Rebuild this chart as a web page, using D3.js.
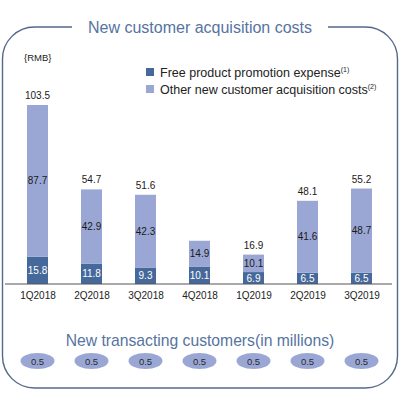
<!DOCTYPE html>
<html>
<head>
<meta charset="utf-8">
<script src="https://cdn.jsdelivr.net/npm/d3@7"></script>
<style>
  body { margin: 0; background: #fff; }
  svg { font-family: "Liberation Sans", Arial, Helvetica, sans-serif; }
</style>
</head>
<body>
<div id="chart"></div>
<script>
// data
var quarters = ["1Q2018", "2Q2018", "3Q2018", "4Q2018", "1Q2019", "2Q2019", "3Q2019"];
var promotion = [15.8, 11.8, 9.3, 10.1, 6.9, 6.5, 6.5];
var otherCosts = [87.7, 42.9, 42.3, 14.9, 10.1, 41.6, 48.7];
var totals = [103.5, 54.7, 51.6, 25.0, 16.9, 48.1, 55.2];
var showTotal = [true, true, true, false, true, true, true];
var newCustomers = [0.5, 0.5, 0.5, 0.5, 0.5, 0.5, 0.5];
var legendLabels = ["Free product promotion expense", "Other new customer acquisition costs"];
var legendNotes = ["(1)", "(2)"];

var width = 402, height = 393;
var darkBlue = "#46699b", lightBlue = "#9aa7d5", titleBlue = "#56749f";

var svg = d3.select('#chart')
    .append('svg')
    .attr('width', width)
    .attr('height', height);

// frame
svg.append('rect')
    .attr('x', 2.5).attr('y', 27)
    .attr('width', 395).attr('height', 361)
    .attr('rx', 32).attr('ry', 32)
    .attr('fill', 'none')
    .attr('stroke', '#55688c')
    .attr('stroke-width', 1.4);

svg.append('rect')
    .attr('x', 72).attr('y', 20)
    .attr('width', 256).attr('height', 14)
    .attr('fill', '#fff');

svg.append('text')
    .attr('x', 200).attr('y', 33)
    .attr('text-anchor', 'middle')
    .attr('font-size', 16)
    .attr('fill', titleBlue)
    .text('New customer acquisition costs');

svg.append('text')
    .attr('x', 24).attr('y', 61)
    .attr('font-size', 9.5)
    .attr('fill', '#222')
    .text('{RMB}');

// scales
var x = d3.scalePoint().domain(quarters).range([10.5, 388.5]).padding(0.5);
var y = d3.scaleLinear().domain([0, 103.5]).range([284, 105]);
var barW = 21;

// legend
var legend = svg.append('g');
legendLabels.forEach(function(lbl, i) {
  var row = legend.append('g').attr('transform', `translate(146,${68 + i * 17})`);
  row.append('rect').attr('width', 8).attr('height', 8).attr('fill', i === 0 ? darkBlue : lightBlue);
  var t = row.append('text').attr('x', 14).attr('y', 8.5).attr('font-size', 12.5).attr('fill', '#222').text(lbl);
  t.append('tspan').attr('font-size', 7).attr('dy', -5).text(legendNotes[i]);
});

// bars
var rows = quarters.map(function(q, i) {
  return {q: q, a: promotion[i], b: otherCosts[i], total: totals[i], show: showTotal[i]};
});

var bars = svg.selectAll('g.bar').data(rows).enter().append('g').attr('class', 'bar');

bars.append('rect')
    .attr('x', d => x(d.q) - barW / 2)
    .attr('y', d => y(d.a))
    .attr('width', barW)
    .attr('height', d => y(0) - y(d.a))
    .attr('fill', darkBlue);

bars.append('rect')
    .attr('x', d => x(d.q) - barW / 2)
    .attr('y', d => y(d.a + d.b))
    .attr('width', barW)
    .attr('height', d => y(d.a) - y(d.a + d.b))
    .attr('fill', lightBlue);

bars.append('text')
    .attr('x', d => x(d.q))
    .attr('y', d => (y(0) + y(d.a)) / 2 + 3.5)
    .attr('text-anchor', 'middle')
    .attr('font-size', 10)
    .attr('fill', '#fff')
    .text(d => d.a.toFixed(1));

bars.append('text')
    .attr('x', d => x(d.q))
    .attr('y', d => (y(d.a) + y(d.a + d.b)) / 2 + 3.5)
    .attr('text-anchor', 'middle')
    .attr('font-size', 10)
    .attr('fill', '#1a1a1a')
    .text(d => d.b.toFixed(1));

bars.filter(d => d.show).append('text')
    .attr('x', d => x(d.q))
    .attr('y', d => y(d.a + d.b) - 6)
    .attr('text-anchor', 'middle')
    .attr('font-size', 10)
    .attr('fill', '#1a1a1a')
    .text(d => d.total.toFixed(1));

// x axis
var xAxis = svg.append('g')
    .attr('transform', 'translate(0,284)')
    .call(d3.axisBottom(x).tickSize(0).tickPadding(8));
xAxis.select('.domain').remove();
xAxis.append('line').attr('x1', 5).attr('x2', 392).attr('stroke', '#555').attr('stroke-width', 1);
xAxis.selectAll('.tick text')
    .attr('font-size', 10)
    .attr('font-family', '"Liberation Sans", Arial, sans-serif')
    .attr('fill', '#222');

// new customers
svg.append('text')
    .attr('x', 200).attr('y', 346)
    .attr('text-anchor', 'middle')
    .attr('font-size', 15.7)
    .attr('fill', titleBlue)
    .text('New transacting customers(in millions)');

var pills = svg.selectAll('g.pill').data(quarters).enter().append('g').attr('class', 'pill')
    .attr('transform', d => `translate(${x(d)},361)`);
pills.append('ellipse').attr('rx', 17).attr('ry', 8).attr('fill', lightBlue);
pills.append('text')
    .attr('y', 3.5)
    .attr('text-anchor', 'middle')
    .attr('font-size', 9.5)
    .attr('fill', '#2a2a2a')
    .text((d, i) => newCustomers[i].toFixed(1));
</script>
</body>
</html>
